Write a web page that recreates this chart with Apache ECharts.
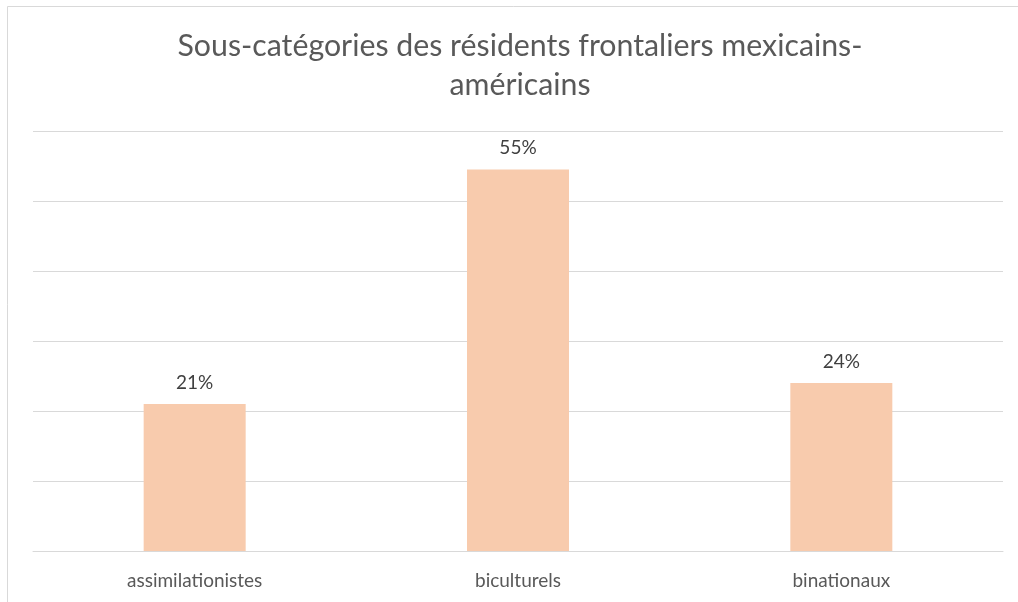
<!DOCTYPE html>
<html><head><meta charset="utf-8">
<script src="https://cdn.jsdelivr.net/npm/echarts@6/dist/echarts.min.js"></script>
<style>html,body{margin:0;padding:0;background:#fff}#c{width:1018px;height:602px}</style>
</head><body><div id="c"></div>
<script>
const categories = ['assimilationistes', 'biculturels', 'binationaux'];
const values = [21, 54.5, 24];
const titleText = 'Sous-catégories des résidents frontaliers mexicains-\naméricains';

const chart = echarts.init(document.getElementById('c'), null, {renderer: 'canvas'});
chart.setOption({
  animation: false,
  backgroundColor: '#fff',
  graphic: [{
    type: 'rect', shape: {x: 7.5, y: 6.5, width: 1030, height: 620},
    style: {fill: 'none', stroke: '#d9d9d9', lineWidth: 1}, silent: true
  }],
  title: {
    text: titleText, left: 515, textAlign: 'center', top: 22,
    textStyle: {fontFamily: 'Lato', fontSize: 30.3, fontWeight: 'normal', color: '#595959', lineHeight: 39, align: 'center'}
  },
  grid: {left: 33, right: 15, top: 131, bottom: 51},
  xAxis: {
    type: 'category', data: categories,
    axisLine: {lineStyle: {color: '#d9d9d9', width: 1}},
    axisTick: {show: false},
    axisLabel: {fontFamily: 'Lato', fontSize: 19, color: '#595959', margin: 20}
  },
  yAxis: {
    type: 'value', min: 0, max: 60, interval: 10,
    axisLabel: {show: false}, axisLine: {show: false}, axisTick: {show: false},
    splitLine: {lineStyle: {color: '#d9d9d9', width: 1}}
  },
  series: [{
    type: 'bar', data: values, barWidth: 102,
    itemStyle: {color: '#f8cbad'},
    label: {show: true, position: 'top', distance: 12,
      formatter: p => Math.round(p.value) + '%',
      fontFamily: 'Lato', fontSize: 19, color: '#404040'}
  }]
});
</script></body></html>
